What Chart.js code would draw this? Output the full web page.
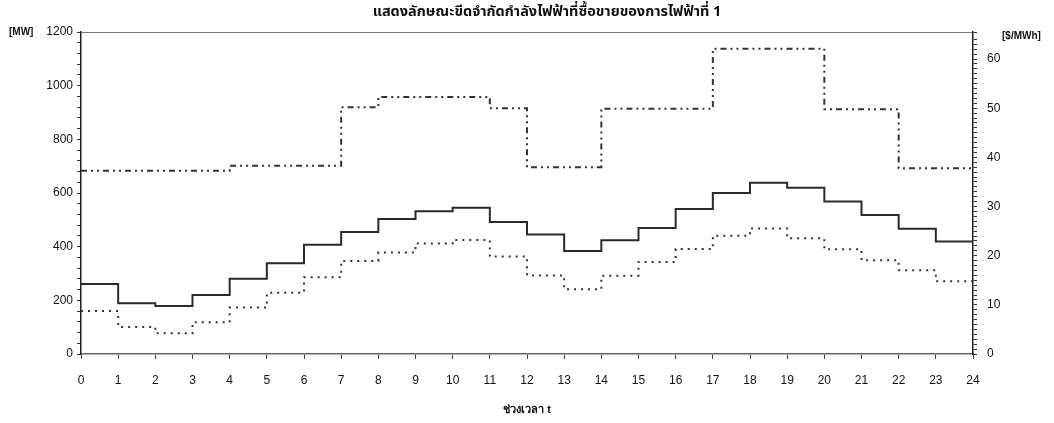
<!DOCTYPE html>
<html>
<head>
<meta charset="utf-8">
<script src="https://cdn.jsdelivr.net/npm/chart.js@4.4.0/dist/chart.umd.min.js"></script>
<style>
  html, body { margin: 0; padding: 0; background: #fff; }
  #wrap { width: 1054px; height: 423px; }
</style>
</head>
<body>
<div id="wrap"><canvas id="chart" width="1054" height="423"></canvas></div>
<script>
const CHART_TITLE = 'แสดงลักษณะขีดจำกัดกำลังไฟฟ้าที่ซื้อขายของการไฟฟ้าที่ 1';
const X_TITLE = 'ช่วงเวลา t';

// ชั่วโมง 0..24 (จุดสุดท้ายปิดขั้นบันได)
const hours = [0, 1, 2, 3, 4, 5, 6, 7, 8, 9, 10, 11, 12, 13, 14, 15, 16, 17, 18, 19, 20, 21, 22, 23, 24];

// MW (แกนซ้าย)
const mwSolid = [261, 189, 179, 220, 280, 338, 407, 455, 503, 532, 545, 492, 445, 384, 424, 470, 540, 600, 638, 620, 568, 518, 467, 419];
const mwDotted = [160, 101, 77, 118, 173, 228, 286, 347, 378, 412, 425, 363, 293, 241, 292, 343, 391, 441, 468, 431, 390, 349, 312, 271];

// $/MWh (แกนขวา)
const price = [37.3, 37.3, 37.3, 37.3, 38.3, 38.3, 38.3, 50.2, 52.3, 52.3, 52.3, 50, 38, 38, 49.9, 49.9, 49.9, 62.1, 62.1, 62.1, 49.8, 49.8, 37.8, 37.8];

function stepPoints(values) {
  // จุดที่ 24 ใช้ค่าของชั่วโมงสุดท้าย
  return hours.map((h, i) => ({ x: h, y: values[Math.min(i, values.length - 1)] }));
}

const FONT = '"Liberation Sans", Arial, Helvetica, sans-serif';

const textPlugin = {
  id: 'texts',
  afterDraw(chart) {
    const c = chart.ctx;
    c.save();
    c.fillStyle = '#111';
    c.textBaseline = 'middle';
    c.textAlign = 'center';
    c.font = 'bold 14.5px "Noto Sans Thai", Loma, "Tlwg Typo", sans-serif';
    c.fillText(CHART_TITLE, 547, 13);
    c.font = 'bold 10px ' + FONT;
    c.textAlign = 'left';
    c.fillText('[MW]', 9, 32);
    c.fillText('[$/MWh]', 1002, 36);
    c.restore();
  }
};

const ctx = document.getElementById('chart').getContext('2d');
new Chart(ctx, {
  type: 'line',
  data: {
    datasets: [
      {
        label: 'solid',
        data: stepPoints(mwSolid),
        yAxisID: 'y',
        stepped: 'before',
        borderColor: '#2a2a2a',
        borderWidth: 2,
        pointRadius: 0,
        fill: false,
      },
      {
        label: 'dotted',
        data: stepPoints(mwDotted),
        yAxisID: 'y',
        stepped: 'before',
        borderColor: '#333',
        borderWidth: 2,
        borderDash: [2, 5],
        pointRadius: 0,
        fill: false,
      },
      {
        label: 'price',
        data: stepPoints(price),
        yAxisID: 'y1',
        stepped: 'before',
        borderColor: '#333',
        borderWidth: 2,
        borderDash: [6, 4, 2, 4, 2, 4],
        pointRadius: 0,
        fill: false,
      }
    ]
  },
  options: {
    responsive: false,
    animation: false,
    layout: { padding: { top: 32, left: 0, right: 0, bottom: 0 } },
    plugins: {
      legend: { display: false },
      tooltip: { enabled: false },
      title: { display: false }
    },
    scales: {
      x: {
        type: 'linear',
        min: 0,
        max: 24,
        afterFit: s => { s.height = 69; },
        ticks: { stepSize: 1, autoSkip: false, color: '#111', padding: 14, font: { family: FONT, size: 12 } },
        grid: { drawOnChartArea: false, tickLength: 5, tickColor: '#444' },
        border: { display: true, color: '#666', width: 1.5 },
        title: { display: true, text: X_TITLE, color: '#111', padding: { top: 4, bottom: 6 }, font: { size: 11, weight: 'bold' } }
      },
      y: {
        position: 'left',
        min: 0,
        max: 1200,
        afterFit: s => { s.width = 81; },
        ticks: {
          stepSize: 40,
          autoSkip: false,
          maxTicksLimit: 100,
          color: '#111',
          padding: 4,
          font: { family: FONT, size: 12 },
          callback: v => (v % 200 === 0 ? String(v) : '')
        },
        grid: {
          drawOnChartArea: true,
          color: c => (c.tick && c.tick.value === 1200 ? '#777' : 'rgba(0,0,0,0)'),
          tickColor: '#333',
          tickLength: 4
        },
        border: { display: true, color: '#222', width: 1.5 }
      },
      y1: {
        position: 'right',
        min: 0,
        max: 65.5,
        afterFit: s => { s.width = 81; },
        ticks: {
          stepSize: 1,
          autoSkip: false,
          maxTicksLimit: 100,
          color: '#111',
          padding: 10,
          font: { family: FONT, size: 12 },
          callback: v => (v % 10 === 0 ? String(v) : '')
        },
        grid: { drawOnChartArea: false, tickColor: '#333', tickLength: 4 },
        border: { display: true, color: '#222', width: 1.5 }
      }
    }
  },
  plugins: [textPlugin]
});
</script>
</body>
</html>
